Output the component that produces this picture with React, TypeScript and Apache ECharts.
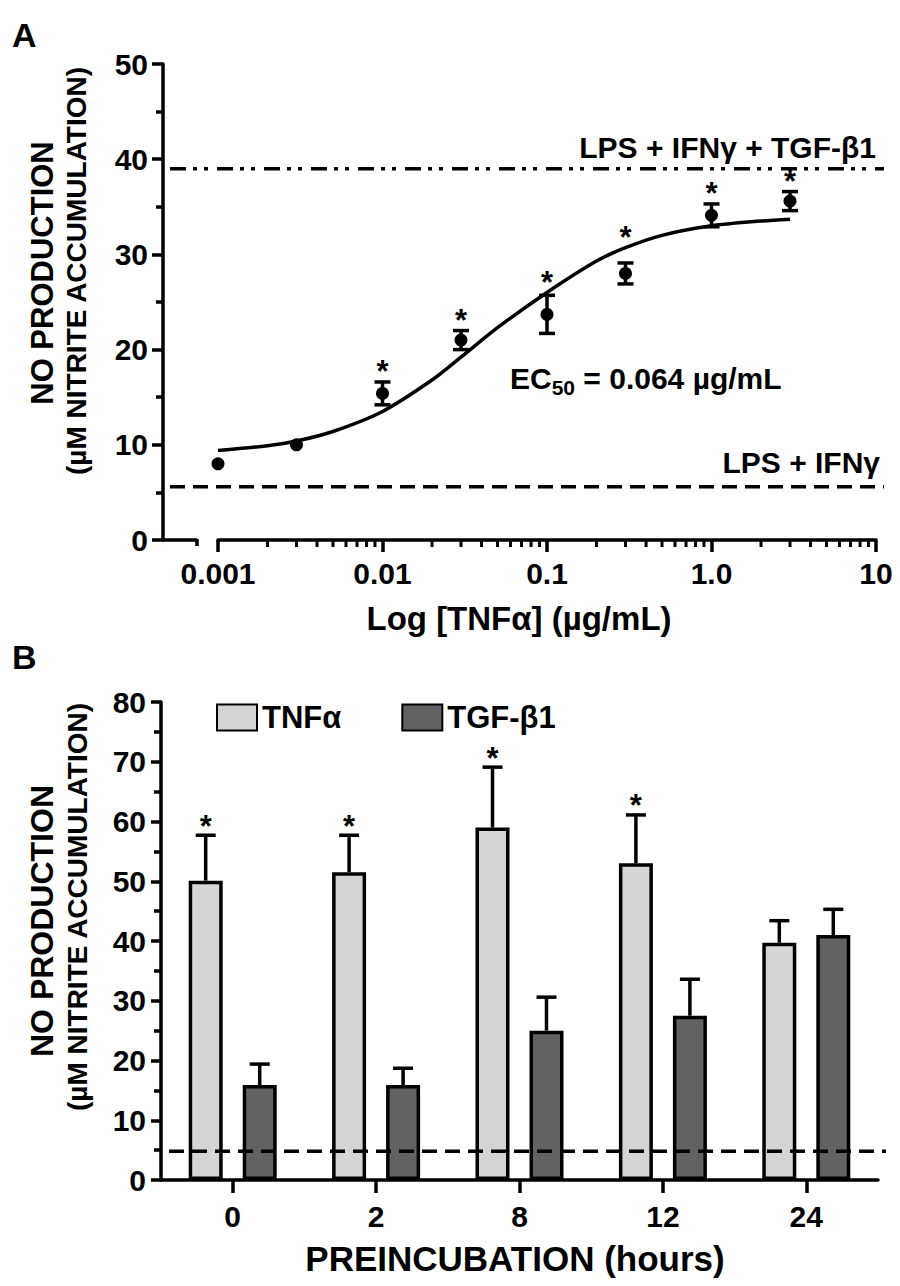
import React, { useEffect, useRef } from 'react';
import * as echarts from 'echarts';

// ---------- Panel A data ----------
const concA = [0.001, 0.003, 0.01, 0.03, 0.1, 0.3, 1, 3];
const meanA = [8.0, 10.0, 15.4, 21.0, 23.7, 28.0, 34.1, 35.6];
const semA = [0, 0, 1.2, 1.0, 2.0, 1.1, 1.2, 1.0];
const sigA = [false, false, true, true, true, true, true, true];
const fitX = [0.001, 0.002, 0.003, 0.005, 0.01, 0.02, 0.03, 0.05, 0.1, 0.2, 0.3, 0.5, 1, 2, 3];
const fitY = [9.4, 9.9, 10.4, 11.4, 13.5, 16.8, 19.2, 22.3, 26.0, 29.3, 30.7, 32.0, 33.0, 33.5, 33.7];
const refTopA = 39;
const refBottomA = 5.6;
const xTickLabelsA = ['0.001', '0.01', '0.1', '1.0', '10'];

// ---------- Panel B data ----------
const hoursB = ['0', '2', '8', '12', '24'];
const tnfB = [50.1, 51.5, 59.0, 53.0, 39.7];
const tnfErrB = [7.6, 6.2, 10.1, 8.1, 3.7];
const tgfB = [15.9, 15.9, 25.0, 27.5, 41.0];
const tgfErrB = [3.5, 2.8, 5.6, 6.1, 4.3];
const sigTnfB = [true, true, true, true, false];
const refB = 4.8;

const FONT = '"Liberation Sans", Arial, Helvetica, sans-serif';
const BAR_W = 34;
const BAR_GAP_PX = 20;

export default function App() {
  const ref = useRef<HTMLDivElement>(null);

  useEffect(() => {
    const chart = echarts.init(ref.current as HTMLDivElement, null, { renderer: 'svg' });

    const minorVals: number[] = [];
    for (let d = -3; d < 1; d++) {
      for (let m = 2; m <= 9; m++) minorVals.push(+(m * Math.pow(10, d)).toPrecision(3));
    }

    const black = '#000';
    const LW = 3.5;
    const axisLine = { show: true, lineStyle: { color: black, width: LW } };
    const tickLine = { color: black, width: LW };
    const label = { color: black, fontSize: 30, fontWeight: 'bold', fontFamily: FONT };
    const starFont = `bold 31px ${FONT}`;

    const errA = (params: any, api: any) => {
      const x = api.value(0);
      const lo = api.value(2);
      const hi = api.value(3);
      const sig = api.value(4);
      const curve = api.value(5);
      const children: any[] = [];
      const pHi = api.coord([x, hi]);
      const pLo = api.coord([x, lo]);
      if (hi > lo) {
        const st = { stroke: black, lineWidth: LW };
        children.push({ type: 'line', shape: { x1: pHi[0], y1: pHi[1], x2: pLo[0], y2: pLo[1] }, style: st });
        children.push({ type: 'line', shape: { x1: pHi[0] - 8, y1: pHi[1], x2: pHi[0] + 8, y2: pHi[1] }, style: st });
        children.push({ type: 'line', shape: { x1: pLo[0] - 8, y1: pLo[1], x2: pLo[0] + 8, y2: pLo[1] }, style: st });
      }
      if (sig) {
        const top = api.coord([x, Math.max(hi, curve)]);
        children.push({
          type: 'text', x: top[0], y: top[1] - 16 + 6,
          style: { text: '*', fill: black, font: starFont, align: 'center', verticalAlign: 'middle' },
        });
      }
      return { type: 'group', children };
    };

    const refLinesA = (params: any, api: any) => {
      const y = api.coord([1, api.value(1)])[1];
      const kind = api.value(2);
      return {
        type: 'line',
        shape: { x1: 170, y1: y, x2: 884, y2: y },
        style: {
          stroke: black, lineWidth: LW,
          lineDash: kind === 0 ? [16, 7, 4, 7, 4, 9] : [15, 8],
        },
      };
    };

    const minorTicksA = (params: any, api: any) => {
      const p = api.coord([api.value(0), 0]);
      return { type: 'line', shape: { x1: p[0], y1: p[1], x2: p[0], y2: p[1] + 7 }, style: { stroke: black, lineWidth: 3 } };
    };

    const stubA = (params: any, api: any) => {
      const p = api.coord([api.value(0), 0]);
      return {
        type: 'group',
        children: [
          { type: 'line', shape: { x1: p[0] - 55, y1: p[1], x2: p[0] - 21, y2: p[1] }, style: { stroke: black, lineWidth: LW } },
          { type: 'line', shape: { x1: p[0] - 21, y1: p[1] - 1, x2: p[0] - 21, y2: p[1] + 6 }, style: { stroke: black, lineWidth: LW } },
        ],
      };
    };

    const errB = (params: any, api: any) => {
      const cat = api.value(0);
      const val = api.value(1);
      const err = api.value(2);
      const which = api.value(3);
      const sig = api.value(4);
      const base = api.coord([cat, val]);
      const topY = api.coord([cat, val + err])[1];
      const off = ((BAR_W + BAR_GAP_PX) / 2) * (which === 0 ? -1 : 1);
      const x = base[0] + off;
      const st = { stroke: black, lineWidth: LW };
      const children: any[] = [
        { type: 'line', shape: { x1: x, y1: base[1], x2: x, y2: topY }, style: st },
        { type: 'line', shape: { x1: x - 10, y1: topY, x2: x + 10, y2: topY }, style: st },
      ];
      if (sig) {
        children.push({
          type: 'text', x, y: topY - 15 + 6,
          style: { text: '*', fill: black, font: starFont, align: 'center', verticalAlign: 'middle' },
        });
      }
      return { type: 'group', children };
    };

    const refLineB = (params: any, api: any) => {
      const y = api.coord([0, api.value(1)])[1];
      return { type: 'line', shape: { x1: 169, y1: y, x2: 886, y2: y }, style: { stroke: black, lineWidth: LW, lineDash: [15, 8] } };
    };

    const errDataB: any[] = [];
    hoursB.forEach((_, i) => {
      errDataB.push([i, tnfB[i], tnfErrB[i], 0, sigTnfB[i] ? 1 : 0]);
      errDataB.push([i, tgfB[i], tgfErrB[i], 1, 0]);
    });

    const txt = (text: string, x: number, y: number, size: number, align: string, rotation = 0) => ({
      type: 'text', x, y, rotation,
      style: { text, fill: black, font: `bold ${size}px ${FONT}`, align, verticalAlign: 'middle' },
    });

    const option: any = {
      animation: false,
      backgroundColor: '#fff',
      grid: [
        { left: 218, top: 64, width: 658, height: 476 },
        { left: 161, top: 702, width: 717, height: 478 },
      ],
      legend: {
        data: ['TNFα', 'TGF-β1'],
        left: 216, top: 702, padding: 0,
        itemWidth: 40, itemHeight: 26, itemGap: 60, icon: 'rect',
        selectedMode: false,
        textStyle: { color: black, fontSize: 31, fontWeight: 'bold', fontFamily: FONT },
      },
      xAxis: [
        {
          type: 'log', logBase: 10, min: 0.001, max: 10, gridIndex: 0,
          axisLine, axisTick: { show: true, length: 12, lineStyle: tickLine },
          axisLabel: {
            ...label, margin: 18,
            formatter: (v: number) => xTickLabelsA[Math.round(Math.log10(v)) + 3] ?? '',
          },
          splitLine: { show: false }, minorTick: { show: false }, minorSplitLine: { show: false },
        },
        {
          type: 'category', gridIndex: 1, data: hoursB,
          axisLine, axisTick: { show: true, alignWithLabel: true, length: 13, lineStyle: tickLine },
          axisLabel: { ...label, margin: 21 },
          splitLine: { show: false },
        },
      ],
      yAxis: [
        {
          type: 'value', gridIndex: 0, min: 0, max: 50, interval: 10, offset: 55,
          axisLine, axisTick: { show: true, length: 11, lineStyle: tickLine },
          minorTick: { show: true, splitNumber: 2, length: 7, lineStyle: tickLine },
          axisLabel: { ...label, margin: 15 },
          splitLine: { show: false },
        },
        {
          type: 'value', gridIndex: 1, min: 0, max: 80, interval: 10,
          axisLine, axisTick: { show: true, length: 10, lineStyle: tickLine },
          minorTick: { show: true, splitNumber: 2, length: 7, lineStyle: tickLine },
          axisLabel: { ...label, margin: 15 },
          splitLine: { show: false },
        },
      ],
      series: [
        {
          type: 'custom', xAxisIndex: 0, yAxisIndex: 0, data: [[1, refTopA, 0], [1, refBottomA, 1]],
          renderItem: refLinesA, z: 2, silent: true,
        },
        {
          type: 'custom', xAxisIndex: 0, yAxisIndex: 0, data: minorVals.map((v) => [v, 0]),
          renderItem: minorTicksA, z: 2, silent: true,
        },
        {
          type: 'custom', xAxisIndex: 0, yAxisIndex: 0, data: [[0.001, 0]],
          renderItem: stubA, z: 2, silent: true,
        },
        {
          type: 'line', xAxisIndex: 0, yAxisIndex: 0,
          data: fitX.map((x, i) => [x, fitY[i]]),
          smooth: 0.3, showSymbol: false, lineStyle: { color: black, width: 3.5 }, z: 3, silent: true,
        },
        {
          type: 'scatter', xAxisIndex: 0, yAxisIndex: 0,
          data: concA.map((x, i) => [x, meanA[i]]),
          symbolSize: 13, itemStyle: { color: black, opacity: 1 }, z: 4,
        },
        {
          type: 'custom', xAxisIndex: 0, yAxisIndex: 0,
          data: concA.map((x, i) => [x, meanA[i], meanA[i] - semA[i], meanA[i] + semA[i], sigA[i] ? 1 : 0, fitY[fitX.indexOf(x)]]),
          renderItem: errA, z: 5, silent: true,
        },
        {
          type: 'bar', name: 'TNFα', xAxisIndex: 1, yAxisIndex: 1, data: tnfB,
          barWidth: BAR_W, barGap: `${(BAR_GAP_PX / BAR_W) * 100}%`,
          itemStyle: { color: '#d4d4d4', borderColor: black, borderWidth: LW }, z: 2,
        },
        {
          type: 'bar', name: 'TGF-β1', xAxisIndex: 1, yAxisIndex: 1, data: tgfB,
          barWidth: BAR_W, barGap: `${(BAR_GAP_PX / BAR_W) * 100}%`,
          itemStyle: { color: '#626262', borderColor: black, borderWidth: LW }, z: 2,
        },
        {
          type: 'custom', xAxisIndex: 1, yAxisIndex: 1, data: errDataB,
          renderItem: errB, z: 4, silent: true,
        },
        {
          type: 'custom', xAxisIndex: 1, yAxisIndex: 1, data: [[0, refB]],
          renderItem: refLineB, z: 5, silent: true,
        },
      ],
      graphic: [
        txt('A', 12, 35, 34, 'left'),
        txt('B', 12, 657, 34, 'left'),
        txt('NO PRODUCTION', 42, 273, 31, 'center', Math.PI / 2),
        txt('(µM NITRITE ACCUMULATION)', 76, 271, 28, 'center', Math.PI / 2),
        txt('NO PRODUCTION', 42, 921, 32, 'center', Math.PI / 2),
        txt('(µM NITRITE ACCUMULATION)', 77, 907, 28, 'center', Math.PI / 2),
        txt('Log [TNFα] (µg/mL)', 519, 618, 33, 'center'),
        txt('PREINCUBATION (hours)', 515, 1258, 35, 'center'),
        txt('LPS + IFNγ + TGF-β1', 876, 147, 30, 'right'),
        txt('LPS + IFNγ', 880, 462, 30, 'right'),
        {
          type: 'text', x: 510, y: 378,
          style: {
            text: '{a|EC}{b|50}{a| = 0.064 µg/mL}',
            verticalAlign: 'middle', align: 'left',
            rich: {
              a: { fontSize: 30, fontWeight: 'bold', fontFamily: FONT, fill: black, color: black, lineHeight: 40 },
              b: { fontSize: 21, fontWeight: 'bold', fontFamily: FONT, fill: black, color: black, lineHeight: 20, verticalAlign: 'bottom' },
            },
          },
        },
      ],
    };

    chart.setOption(option);
    return () => chart.dispose();
  }, []);

  return (
    <div
      ref={ref}
      style={{ position: 'absolute', left: 0, top: 0, width: 900, height: 1286, background: '#fff' }}
    />
  );
}
